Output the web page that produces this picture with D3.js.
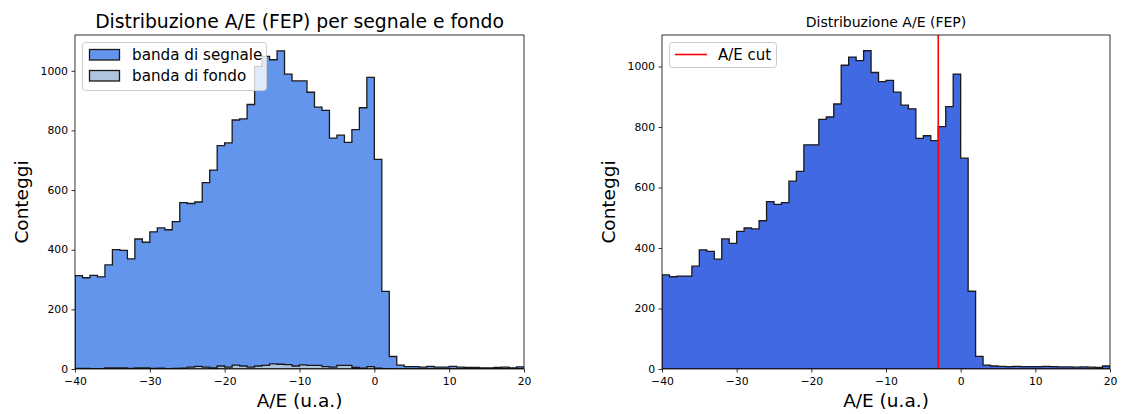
<!DOCTYPE html>
<html>
<head>
<meta charset="utf-8">
<script src="https://cdn.jsdelivr.net/npm/d3@7"></script>
<style>
  html, body { margin: 0; padding: 0; background: #fff; }
  svg { display: block; font-family: "DejaVu Sans", sans-serif; }
</style>
</head>
<body>
<svg id="chart" width="1121" height="414"></svg>
<script>
// Histogram binning: 60 bins of width 1 on [-40, 20]
const binEdges = d3.range(-40, 21, 1);

// Counts per bin, signal band (left panel)
const signalCounts = [
  313, 306, 314, 309, 349, 400, 398, 369, 436, 425,
  460, 473, 467, 494, 558, 555, 560, 625, 667, 749,
  758, 835, 839, 887, 1015, 1048, 1037, 1067, 989, 966,
  966, 928, 878, 867, 774, 784, 760, 803, 876, 978,
  703, 260, 42, 13, 8, 8, 6, 9, 6, 6,
  9, 6, 5, 5, 4, 4, 5, 6, 4, 7
];

// Counts per bin, background band (left panel)
const backgroundCounts = [
  2, 2, 1, 1, 4, 4, 4, 2, 4, 4,
  2, 3, 1, 2, 3, 6, 9, 6, 4, 10,
  6, 13, 10, 6, 10, 12, 17, 16, 15, 10,
  14, 12, 12, 8, 6, 12, 12, 5, 3, 8,
  3, 1, 0, 0, 0, 0, 0, 0, 0, 0,
  0, 0, 0, 0, 0, 0, 0, 0, 0, 0
];

// Counts per bin, FEP distribution (right panel)
const fepCounts = [
  311, 305, 307, 307, 340, 394, 389, 363, 430, 415,
  455, 466, 463, 490, 553, 544, 550, 621, 653, 741,
  741, 825, 833, 876, 1004, 1031, 1019, 1052, 980, 950,
  954, 915, 872, 860, 762, 771, 755, 801, 867, 975,
  697, 257, 42, 13, 10, 9, 8, 9, 8, 8,
  8, 9, 8, 7, 7, 6, 7, 6, 5, 10
];

const aeCut = -3.0;
const xTicks = [-40, -30, -20, -10, 0, 10, 20];
const yTicks = [0, 200, 400, 600, 800, 1000];

const svg = d3.select("#chart");

function stepPath(counts, x, y) {
  // closed outline of a filled step histogram
  const pts = [[binEdges[0], 0]];
  counts.forEach((c, i) => {
    pts.push([binEdges[i], c]);
    pts.push([binEdges[i + 1], c]);
  });
  pts.push([binEdges[binEdges.length - 1], 0]);
  return d3.line().x(d => x(d[0])).y(d => y(d[1]))(pts) + "Z";
}

function panel(opts) {
  const { left, right, top, bottom, yMax, id } = opts;
  const x = d3.scaleLinear().domain([-40, 20]).range([left, right]);
  const y = d3.scaleLinear().domain([0, yMax]).range([bottom, top]);
  const g = svg.append("g");

  g.append("clipPath").attr("id", id).append("rect")
    .attr("x", left).attr("y", top).attr("width", right - left).attr("height", bottom - top);

  const plot = g.append("g").attr("clip-path", `url(#${id})`);
  opts.series.forEach(s => {
    plot.append("path")
      .attr("d", stepPath(s.counts, x, y))
      .attr("fill", s.fill)
      .attr("stroke", "#1a1a1a")
      .attr("stroke-width", 1.3)
      .attr("stroke-linejoin", "miter");
  });

  if (opts.cut !== undefined) {
    plot.append("line")
      .attr("x1", x(opts.cut)).attr("x2", x(opts.cut))
      .attr("y1", top).attr("y2", bottom)
      .attr("stroke", "#ff0000").attr("stroke-width", 1.6);
  }

  // axes
  const xAxis = d3.axisBottom(x).tickValues(xTicks)
    .tickFormat(d => d < 0 ? "\u2212" + Math.abs(d) : String(d))
    .tickSizeOuter(0).tickSize(3.5).tickPadding(4.5);
  const yAxis = d3.axisLeft(y).tickValues(yTicks).tickFormat(d3.format("d"))
    .tickSizeOuter(0).tickSize(3.5).tickPadding(3.5);
  const gx = g.append("g").attr("transform", `translate(0,${bottom})`).call(xAxis);
  const gy = g.append("g").attr("transform", `translate(${left},0)`).call(yAxis);
  [gx, gy].forEach(a => {
    a.select(".domain").remove();
    a.selectAll("line").attr("stroke", "#000").attr("stroke-width", 0.8);
    a.selectAll("text").attr("font-size", 10.8).attr("fill", "#000")
      .attr("font-family", "DejaVu Sans");
  });
  gy.selectAll("text").attr("dy", "0.3em");

  // frame
  g.append("rect").attr("x", left).attr("y", top)
    .attr("width", right - left).attr("height", bottom - top)
    .attr("fill", "none").attr("stroke", "#000").attr("stroke-width", 0.8);

  // titles and labels
  g.append("text").attr("x", (left + right) / 2).attr("y", opts.titleY)
    .attr("text-anchor", "middle").attr("font-size", opts.titleSize).attr("fill", "#000")
    .text(opts.title);
  g.append("text").attr("x", (left + right) / 2).attr("y", bottom + 38)
    .attr("text-anchor", "middle").attr("font-size", 18.5).attr("fill", "#000")
    .text("A/E (u.a.)");
  g.append("text")
    .attr("transform", `translate(${left - 47},${(top + bottom) / 2}) rotate(-90)`)
    .attr("text-anchor", "middle").attr("font-size", 18.5).attr("fill", "#000")
    .text("Conteggi");

  return { g, x, y };
}

// Left panel: signal and background bands
const L = panel({
  id: "clipL", left: 75, right: 524, top: 35, bottom: 369, yMax: 1120,
  title: "Distribuzione A/E (FEP) per segnale e fondo", titleSize: 18.8, titleY: 28,
  series: [
    { counts: signalCounts, fill: "#6495ed" },
    { counts: backgroundCounts, fill: "#b0c4de" }
  ]
});

// legend (left)
{
  const lg = L.g.append("g");
  lg.append("rect").attr("x", 82.5).attr("y", 42.5).attr("width", 184).attr("height", 48)
    .attr("rx", 3).attr("fill", "#fff").attr("fill-opacity", 0.8)
    .attr("stroke", "#ccc").attr("stroke-width", 1);
  const items = [["banda di segnale", "#6495ed"], ["banda di fondo", "#b0c4de"]];
  items.forEach((it, i) => {
    const yy = 49 + i * 21;
    lg.append("rect").attr("x", 89.5).attr("y", yy + 0.5).attr("width", 30).attr("height", 10.5)
      .attr("fill", it[1]).attr("stroke", "#1a1a1a").attr("stroke-width", 1.3);
    lg.append("text").attr("x", 132).attr("y", yy + 11).attr("font-size", 15.2).attr("fill", "#000")
      .text(it[0]);
  });
}

// Right panel: FEP distribution with A/E cut
const R = panel({
  id: "clipR", left: 662, right: 1110, top: 35, bottom: 369, yMax: 1104,
  title: "Distribuzione A/E (FEP)", titleSize: 14, titleY: 27,
  cut: aeCut,
  series: [{ counts: fepCounts, fill: "#4169e1" }]
});

// legend (right)
{
  const lg = R.g.append("g");
  lg.append("rect").attr("x", 669.5).attr("y", 42.5).attr("width", 107).attr("height", 25)
    .attr("rx", 3).attr("fill", "#fff").attr("fill-opacity", 0.8)
    .attr("stroke", "#ccc").attr("stroke-width", 1);
  lg.append("line").attr("x1", 675).attr("x2", 707).attr("y1", 54.5).attr("y2", 54.5)
    .attr("stroke", "#ff0000").attr("stroke-width", 1.6);
  lg.append("text").attr("x", 718).attr("y", 60).attr("font-size", 15).attr("fill", "#000")
    .text("A/E cut");
}
</script>
</body>
</html>
